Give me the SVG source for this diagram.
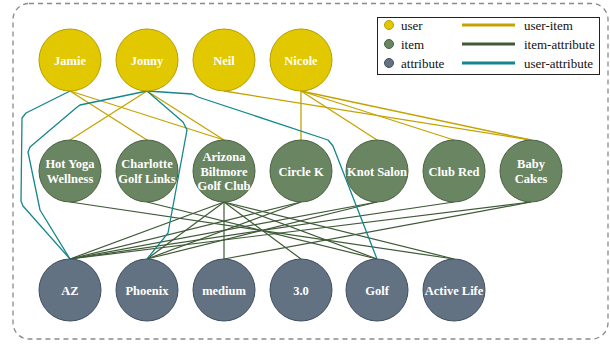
<svg xmlns="http://www.w3.org/2000/svg" width="610" height="345" viewBox="0 0 610 345">
<style>
.frame{fill:none;stroke:#8a8a8a;stroke-width:1.3;stroke-dasharray:5,4}
.user circle{fill:#e1c800;stroke:#b89f00;stroke-width:1}
.item circle{fill:#6a8562;stroke:#4a6342;stroke-width:1}
.attr circle{fill:#627283;stroke:#404e5e;stroke-width:1}
.lbl{font-family:"Liberation Serif","Times New Roman",serif;font-weight:bold;font-size:12.5px;fill:#fff;text-anchor:middle}
.ui{stroke:#c4a300;stroke-width:1.3;fill:none}
.ia{stroke:#3e5a36;stroke-width:1.2;fill:none}
.ua{stroke:#14878c;stroke-width:1.3;fill:none;stroke-linejoin:round}
.leg{font-family:"Liberation Serif","Times New Roman",serif;font-size:13px;fill:#111}
</style>
<rect class="frame" x="13" y="3.5" width="595" height="335.5" rx="16"/>
<g id="connectors">
<line class="ui" x1="70" y1="91" x2="147" y2="140"/>
<line class="ui" x1="70" y1="91" x2="224" y2="140"/>
<line class="ui" x1="147" y1="91" x2="70" y2="140"/>
<line class="ui" x1="147" y1="91" x2="224" y2="140"/>
<line class="ui" x1="224" y1="91" x2="531" y2="140"/>
<line class="ui" x1="301" y1="91" x2="301" y2="140"/>
<line class="ui" x1="301" y1="91" x2="377" y2="140"/>
<line class="ui" x1="301" y1="91" x2="454" y2="140"/>
<line class="ui" x1="301" y1="91" x2="531" y2="140"/>
<line class="ia" x1="70" y1="202" x2="454" y2="259"/>
<line class="ia" x1="147" y1="202" x2="377" y2="259"/>
<line class="ia" x1="224" y1="202" x2="70" y2="259"/>
<line class="ia" x1="224" y1="202" x2="147" y2="259"/>
<line class="ia" x1="224" y1="202" x2="224" y2="259"/>
<line class="ia" x1="224" y1="202" x2="301" y2="259"/>
<line class="ia" x1="224" y1="202" x2="377" y2="259"/>
<line class="ia" x1="224" y1="202" x2="454" y2="259"/>
<line class="ia" x1="301" y1="202" x2="70" y2="259"/>
<line class="ia" x1="301" y1="202" x2="147" y2="259"/>
<line class="ia" x1="377" y1="202" x2="70" y2="259"/>
<line class="ia" x1="377" y1="202" x2="147" y2="259"/>
<line class="ia" x1="454" y1="202" x2="70" y2="259"/>
<line class="ia" x1="531" y1="202" x2="70" y2="259"/>
<line class="ia" x1="531" y1="202" x2="224" y2="259"/>
<polyline class="ua" points="70,91 26,113 22,118 21,201 23,206 70,259"/>
<polyline class="ua" points="147,91 80,105 76,108 30,147 28,152 40,210 70,259"/>
<polyline class="ua" points="147,91 183,122 187,130 168,233 147,259"/>
<polyline class="ua" points="147,91 192,94 198,97 328,140 333,146 377,259"/>
</g>
<g id="jamie" class="user"><circle cx="70" cy="60" r="31"/><text class="lbl" x="70" y="64.5">Jamie</text></g>
<g id="jonny" class="user"><circle cx="147" cy="60" r="31"/><text class="lbl" x="147" y="64.5">Jonny</text></g>
<g id="neil" class="user"><circle cx="224" cy="60" r="31"/><text class="lbl" x="224" y="64.5">Neil</text></g>
<g id="nicole" class="user"><circle cx="301" cy="60" r="31"/><text class="lbl" x="301" y="64.5">Nicole</text></g>
<g id="hotyoga" class="item"><circle cx="70" cy="171" r="31"/><text class="lbl" x="70" y="168">Hot Yoga</text><text class="lbl" x="70" y="183">Wellness</text></g>
<g id="charlotte" class="item"><circle cx="147" cy="171" r="31"/><text class="lbl" x="147" y="168">Charlotte</text><text class="lbl" x="147" y="183">Golf Links</text></g>
<g id="arizona" class="item"><circle cx="224" cy="171" r="31"/><text class="lbl" x="224" y="161">Arizona</text><text class="lbl" x="224" y="175.5">Biltmore</text><text class="lbl" x="224" y="190">Golf Club</text></g>
<g id="circlek" class="item"><circle cx="301" cy="171" r="31"/><text class="lbl" x="301" y="175.5">Circle K</text></g>
<g id="knot" class="item"><circle cx="377" cy="171" r="31"/><text class="lbl" x="377" y="175.5">Knot Salon</text></g>
<g id="clubred" class="item"><circle cx="454" cy="171" r="31"/><text class="lbl" x="454" y="175.5">Club Red</text></g>
<g id="babycakes" class="item"><circle cx="531" cy="171" r="31"/><text class="lbl" x="531" y="168">Baby</text><text class="lbl" x="531" y="183">Cakes</text></g>
<g id="az" class="attr"><circle cx="70" cy="290" r="31"/><text class="lbl" x="70" y="294.5">AZ</text></g>
<g id="phoenix" class="attr"><circle cx="147" cy="290" r="31"/><text class="lbl" x="147" y="294.5">Phoenix</text></g>
<g id="medium" class="attr"><circle cx="224" cy="290" r="31"/><text class="lbl" x="224" y="294.5">medium</text></g>
<g id="rating" class="attr"><circle cx="301" cy="290" r="31"/><text class="lbl" x="301" y="294.5">3.0</text></g>
<g id="golf" class="attr"><circle cx="377" cy="290" r="31"/><text class="lbl" x="377" y="294.5">Golf</text></g>
<g id="activelife" class="attr"><circle cx="454" cy="290" r="31"/><text class="lbl" x="454" y="294.5">Active Life</text></g>
<g id="legend">
<rect x="377.5" y="17.5" width="222" height="57" fill="#fff" stroke="#222" stroke-width="1"/>
<circle cx="389" cy="25" r="4.5" fill="#e1c800" stroke="#b89f00"/>
<circle cx="389" cy="44" r="4.5" fill="#6a8562" stroke="#4a6342"/>
<circle cx="389" cy="63" r="4.5" fill="#627283" stroke="#404e5e"/>
<text class="leg" x="401" y="29.5">user</text>
<text class="leg" x="401" y="48.5">item</text>
<text class="leg" x="401" y="67.5">attribute</text>
<line x1="462" y1="25" x2="515" y2="25" stroke="#c4a300" stroke-width="3"/>
<line x1="462" y1="44" x2="515" y2="44" stroke="#3e5a36" stroke-width="3"/>
<line x1="462" y1="63" x2="515" y2="63" stroke="#14878c" stroke-width="3"/>
<text class="leg" x="524" y="29.5">user-item</text>
<text class="leg" x="524" y="48.5">item-attribute</text>
<text class="leg" x="524" y="67.5">user-attribute</text>
</g>
</svg>
